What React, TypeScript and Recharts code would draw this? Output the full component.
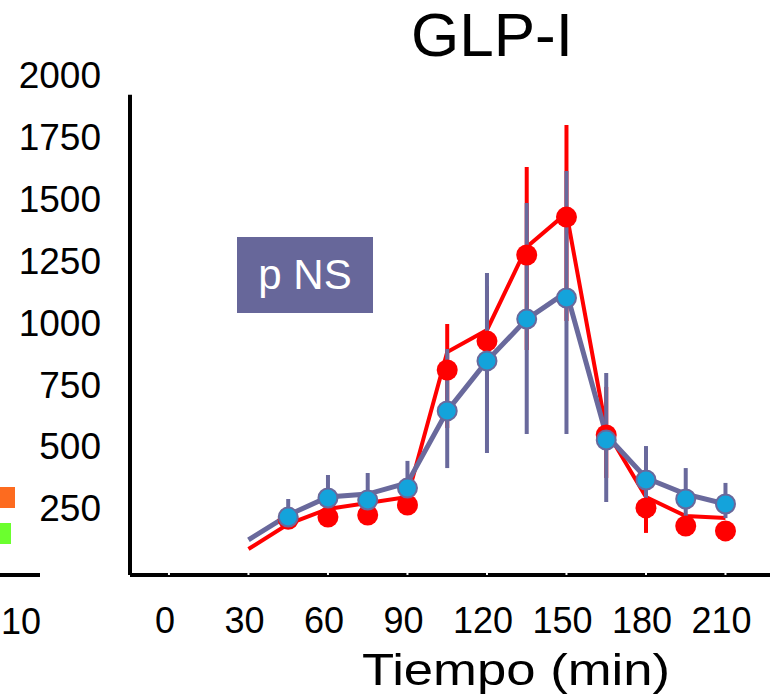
import React from "react";
import {
  ComposedChart,
  ErrorBar,
  Line,
  ReferenceLine,
  Scatter,
  XAxis,
  YAxis,
} from "recharts";

// line vertices (the lines start at 30 min, without a marker)
const lineTimes = [30, 45, 60, 75, 90, 105, 120, 135, 150, 165, 180, 195, 210];
const redLine = [85, 186, 247, 271, 295, 881, 970, 1305, 1442, 566, 295, 218, 210];
const blueLine = [122, 222, 295, 307, 352, 643, 845, 1014, 1123, 546, 372, 307, 267];

// markers + error bars ([below, above])
const dotTimes = [45, 60, 75, 90, 105, 120, 135, 150, 165, 180, 195, 210];
const redMean = [205, 214, 222, 263, 808, 925, 1273, 1426, 546, 251, 178, 158];
const redErr = [
  [10, 10], [15, 15], [15, 15], [15, 15], [234, 186], [282, 222],
  [384, 355], [420, 372], [174, 194], [101, 100], [40, 40], [40, 40],
];
const blueMean = [214, 291, 283, 331, 643, 845, 1014, 1099, 525, 364, 287, 267];
const blueErr = [
  [15, 73], [20, 93], [20, 109], [25, 110], [231, 250], [372, 355],
  [464, 469], [549, 513], [250, 271], [150, 137], [97, 125], [57, 85],
];

const xTicks = [0, 30, 60, 90, 120, 150, 180, 210];
const yTicks = [250, 500, 750, 1000, 1250, 1500, 1750, 2000];

const RED = "#ff0000";
const SLATE = "#69699c";
const CYAN = "#14a3db";
const FONT = '"Liberation Sans", Arial, sans-serif';
const X_MIN = -14.7;

const redLineData = lineTimes.map((t, i) => ({ t, v: redLine[i] }));
const blueLineData = lineTimes.map((t, i) => ({ t, v: blueLine[i] }));
const redDots = dotTimes.map((t, i) => ({ t, v: redMean[i], err: redErr[i] }));
const blueDots = dotTimes.map((t, i) => ({ t, v: blueMean[i], err: blueErr[i] }));

const RedDot = (p: any) => <circle cx={p.cx} cy={p.cy} r={10.5} fill={RED} />;
const BlueDot = (p: any) => (
  <circle cx={p.cx} cy={p.cy} r={9.5} fill={CYAN} stroke={SLATE} strokeWidth={2} />
);

export default function App() {
  return (
    <div
      style={{
        position: "absolute",
        left: 0,
        top: 0,
        width: 770,
        height: 698,
        overflow: "hidden",
        background: "#fff",
        fontFamily: FONT,
      }}
    >
      {/* bits of the neighbouring panel on the left */}
      <div style={{ position: "absolute", left: 0, top: 487, width: 15, height: 21, background: "#fd6b1f" }} />
      <div style={{ position: "absolute", left: 0, top: 523, width: 11, height: 21, background: "#6bff2e" }} />
      <div style={{ position: "absolute", left: 0, top: 573, width: 40, height: 4, background: "#000" }} />
      <div style={{ position: "absolute", left: 1, top: 604, fontSize: 36, lineHeight: "36px" }}>10</div>

      <ComposedChart
        width={770}
        height={698}
        margin={{ top: 75, right: 0, bottom: 0, left: 0 }}
        style={{ position: "absolute", left: 0, top: 0 }}
      >
        <XAxis
          type="number"
          dataKey="t"
          domain={[X_MIN, 226.8]}
          ticks={xTicks}
          allowDataOverflow
          height={123}
          axisLine={{ stroke: "#000", strokeWidth: 4 }}
          tickLine={{ stroke: "#fff", strokeWidth: 2 }}
          tickSize={-2}
          tickMargin={34}
          tick={{ fill: "#000", fontSize: 36, fontFamily: FONT, dx: -4 }}
        />
        <YAxis
          type="number"
          domain={[-20, 2000]}
          ticks={yTicks}
          allowDataOverflow
          width={130}
          axisLine={false}
          tickLine={false}
          tickSize={0}
          tickMargin={29}
          tick={{ fill: "#000", fontSize: 37, fontFamily: FONT }}
        />
        <ReferenceLine
          segment={[
            { x: X_MIN, y: -20 },
            { x: X_MIN, y: 1920 },
          ]}
          stroke="#000"
          strokeWidth={4}
        />
        <Line
          data={redLineData}
          dataKey="v"
          stroke={RED}
          strokeWidth={4}
          dot={false}
          isAnimationActive={false}
        />
        <Scatter data={redDots} dataKey="v" shape={RedDot} isAnimationActive={false}>
          <ErrorBar dataKey="err" direction="y" width={0} stroke={RED} strokeWidth={4} />
        </Scatter>
        <Line
          data={blueLineData}
          dataKey="v"
          stroke={SLATE}
          strokeWidth={5}
          dot={false}
          isAnimationActive={false}
        />
        <Scatter data={blueDots} dataKey="v" shape={BlueDot} isAnimationActive={false}>
          <ErrorBar dataKey="err" direction="y" width={0} stroke={SLATE} strokeWidth={4} />
        </Scatter>
      </ComposedChart>

      <div
        style={{
          position: "absolute",
          left: 0,
          width: 984,
          top: 0,
          textAlign: "center",
          fontSize: 62,
          lineHeight: "70px",
          color: "#000",
        }}
      >
        GLP-I
      </div>

      {/* x axis title, slightly stretched like the original */}
      <div
        style={{
          position: "absolute",
          left: 316,
          width: 400,
          top: 644,
          textAlign: "center",
          fontSize: 45,
          lineHeight: "52px",
          color: "#000",
          transform: "scaleX(1.17)",
          transformOrigin: "200px 0",
        }}
      >
        Tiempo (min)
      </div>

      <div
        style={{
          position: "absolute",
          left: 237,
          top: 237,
          width: 136,
          height: 76,
          background: "#67679a",
          color: "#fff",
          fontSize: 42,
          lineHeight: "76px",
          textAlign: "center",
        }}
      >
        p NS
      </div>
    </div>
  );
}
